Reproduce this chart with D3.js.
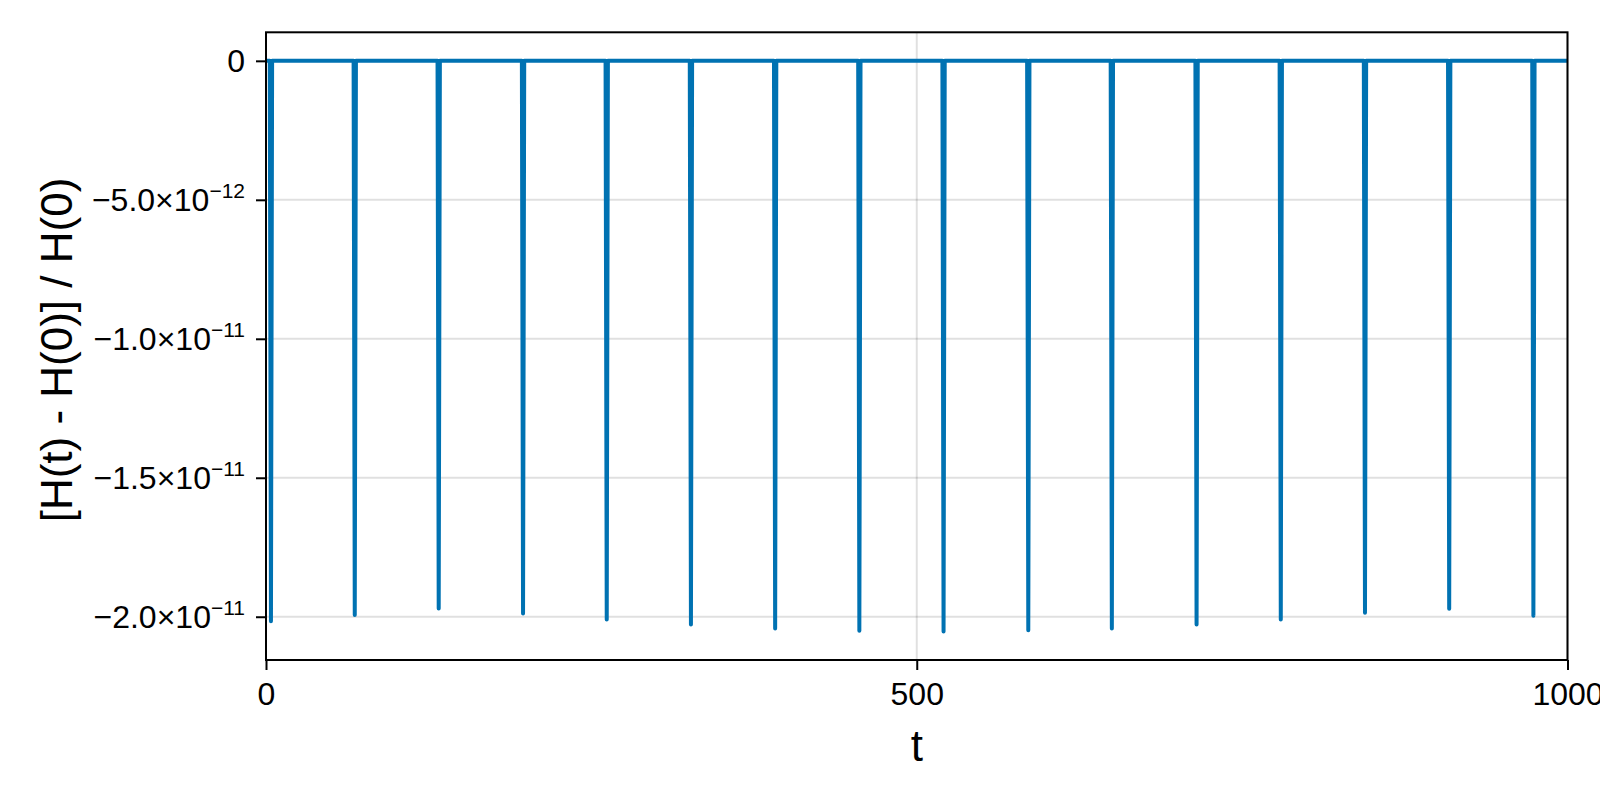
<!DOCTYPE html>
<html>
<head>
<meta charset="utf-8">
<script src="https://cdn.jsdelivr.net/npm/d3@7"></script>
<style>
  html, body { margin: 0; padding: 0; background: #fff; }
  svg { display: block; font-family: "Liberation Sans", Arial, sans-serif; }
</style>
</head>
<body>
<div id="vis"></div>
<script>
// ==== DATA ====
const xTicks = [0, 500, 1000];
const yTicks = [0, -5e-12, -1e-11, -1.5e-11, -2e-11];
const yTickMant = ["0", "\u22125.0", "\u22121.0", "\u22121.5", "\u22122.0"];
const yTickExp = ["", "\u221212", "\u221211", "\u221211", "\u221211"];

// times of the energy-error dips and their depths (units of 1e-12)
const spikeT = [3.8, 68.2, 132.7, 197.5, 261.8, 326.5, 391.2, 455.9,
                520.6, 585.7, 649.9, 715.0, 779.7, 844.4, 909.1, 973.8];
const spikeDepth = [-20.16, -19.94, -19.70, -19.88, -20.10, -20.28, -20.42, -20.50,
                    -20.53, -20.49, -20.42, -20.28, -20.10, -19.86, -19.71, -19.96];
const tStart = 0, tEnd = 1000;

// ==== LAYOUT ====
const width = 1600, height = 800;
const pLeft = 266, pRight = 1567.5, pTop = 32.3, pBottom = 660;

const svg = d3.select("#vis")
  .append("svg")
  .attr("width", width)
  .attr("height", height);

// build line points: flat at zero, narrow dip at each spike
const pts = [[tStart, 0]];
spikeT.forEach((t, i) => {
  pts.push([t - 0.9, 0]);
  pts.push([t, spikeDepth[i] * 1e-12]);
  pts.push([t + 0.9, 0]);
});
pts.push([tEnd, 0]);

const ymin = d3.min(spikeDepth) * 1e-12, ymax = 0;
const pad = (ymax - ymin) * 0.05;

const x = d3.scaleLinear().domain([tStart, tEnd]).range([pLeft, pRight]);
const y = d3.scaleLinear().domain([ymin - pad, ymax + pad]).range([pBottom, pTop]);

// ==== GRID ====
svg.append("g").selectAll("line")
  .data(xTicks)
  .enter().append("line")
  .attr("x1", d => x(d)).attr("x2", d => x(d))
  .attr("y1", pTop).attr("y2", pBottom)
  .attr("stroke", "rgba(0,0,0,0.12)")
  .attr("stroke-width", 2);

svg.append("g").selectAll("line")
  .data(yTicks)
  .enter().append("line")
  .attr("x1", pLeft).attr("x2", pRight)
  .attr("y1", d => y(d)).attr("y2", d => y(d))
  .attr("stroke", "rgba(0,0,0,0.12)")
  .attr("stroke-width", 2);

// ==== LINE ====
svg.append("clipPath").attr("id", "clip")
  .append("rect")
  .attr("x", pLeft).attr("y", pTop)
  .attr("width", pRight - pLeft).attr("height", pBottom - pTop);

svg.append("path")
  .datum(pts)
  .attr("clip-path", "url(#clip)")
  .attr("fill", "none")
  .attr("stroke", "#0072b2")
  .attr("stroke-width", 4)
  .attr("stroke-linejoin", "round")
  .attr("d", d3.line().x(d => x(d[0])).y(d => y(d[1])));

// ==== FRAME ====
svg.append("rect")
  .attr("x", pLeft).attr("y", pTop)
  .attr("width", pRight - pLeft).attr("height", pBottom - pTop)
  .attr("fill", "none")
  .attr("stroke", "#000")
  .attr("stroke-width", 2);

// ==== X AXIS ====
const xAxis = d3.axisBottom(x)
  .tickValues(xTicks)
  .tickFormat(d3.format("d"))
  .tickSize(10)
  .tickPadding(12);

const gx = svg.append("g")
  .attr("transform", `translate(0,${pBottom})`)
  .call(xAxis);
gx.select(".domain").remove();
gx.selectAll(".tick line").attr("stroke", "#000").attr("stroke-width", 2);
gx.selectAll(".tick text")
  .attr("fill", "#000")
  .style("font-size", "32px")
  .style("font-family", "'Liberation Sans', Arial, sans-serif");

// ==== Y AXIS ====
const yAxis = d3.axisLeft(y)
  .tickValues(yTicks)
  .tickFormat("")
  .tickSize(10)
  .tickPadding(10);

const gy = svg.append("g")
  .attr("transform", `translate(${pLeft},0)`)
  .call(yAxis);
gy.select(".domain").remove();
gy.selectAll(".tick line").attr("stroke", "#000").attr("stroke-width", 2);

const yl = svg.append("g").selectAll("text")
  .data(yTicks)
  .enter().append("text")
  .attr("x", pLeft - 21)
  .attr("y", d => y(d) + 11)
  .attr("text-anchor", "end")
  .style("font-size", "32px")
  .attr("fill", "#000");

yl.each(function(d, i) {
  const t = d3.select(this);
  if (yTickExp[i] === "") {
    t.text(yTickMant[i]);
  } else {
    t.append("tspan").text(yTickMant[i] + "\u00d710");
    t.append("tspan")
      .attr("dy", -13)
      .style("font-size", "21px")
      .text(yTickExp[i]);
  }
});

// ==== LABELS ====
svg.append("text")
  .attr("x", (pLeft + pRight) / 2)
  .attr("y", 761)
  .attr("text-anchor", "middle")
  .style("font-size", "44px")
  .attr("fill", "#000")
  .text("t");

svg.append("text")
  .attr("transform", "translate(72,350) rotate(-90)")
  .attr("text-anchor", "middle")
  .style("font-size", "44px")
  .attr("fill", "#000")
  .text("[H(t) - H(0)] / H(0)");
</script>
</body>
</html>
